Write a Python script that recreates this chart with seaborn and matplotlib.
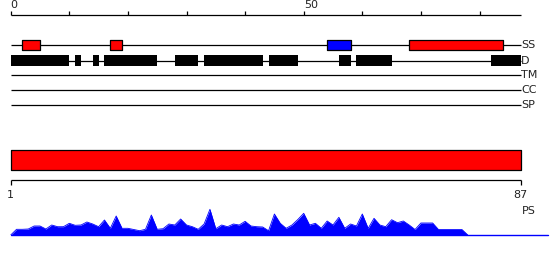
import matplotlib
matplotlib.use("Agg")
import matplotlib.pyplot as plt
import seaborn as sns
import numpy as np
import pandas as pd

# ---------------- data ----------------
seq_length = 87
ruler_ticks = [0, 10, 20, 30, 40, 50, 60, 70, 80]
ruler_labels = {0: "0", 50: "50"}

track_names = ["SS", "D", "TM", "CC", "SP"]

ss_starts = [2, 17, 54, 68]
ss_ends = [5, 19, 58, 84]
ss_colors = ["#ff0000", "#ff0000", "#0000ff", "#ff0000"]

d_starts = [0, 11, 14, 16, 28, 33, 44, 56, 59, 82]
d_ends = [10, 12, 15, 25, 32, 43, 49, 58, 65, 87]

domain_start = 0
domain_end = 87
domain_color = "#ff0000"

bottom_labels = ["1", "87"]

ps_values = [0, 5.7, 5.7, 6, 9, 9, 6, 10, 8.3, 8.3,
             11.7, 9.7, 10, 13, 11, 8.3, 15, 6.7, 19, 6.7,
             6.7, 5.5, 4.3, 5.7, 20, 5.7, 6.3, 11, 10, 16,
             10, 8.3, 5.7, 11, 25.7, 6.3, 10, 8.3, 11, 10,
             13.7, 9, 8.3, 8, 4.3, 21, 11.7, 6.7, 10, 15.5,
             21.7, 10, 11.7, 6.7, 14, 10, 17.7, 6.7, 11, 9,
             21, 6.7, 16.7, 10, 8.3, 15.3, 12.3, 14, 10, 5.5,
             12, 12, 12, 5.5, 5.5, 5.5, 5.5, 5.5, 0]
ps_df = pd.DataFrame({"pos": np.arange(len(ps_values)), "ps": ps_values})

# ---------------- layout ----------------
W, H = 550, 260
x0_px, ppu = 10.7, 5.86
xlim = (-x0_px / ppu, (W - x0_px) / ppu)

sns.set_style("white")
plt.rcParams["font.family"] = ["DejaVu Sans"]

fig = plt.figure(figsize=(W / 100, H / 100), dpi=100)
ax = fig.add_axes([0, 0, 1, 1])
ax.set_xlim(*xlim)
ax.set_ylim(H, 0)
ax.axis("off")

lw = 0.9
txt = "#222222"

# top ruler
ruler_y = 14.7
ax.hlines(ruler_y, 0, seq_length, color="black", lw=lw)
ax.vlines(ruler_ticks, ruler_y - 4, ruler_y, color="black", lw=lw)
for t, lab in ruler_labels.items():
    ax.text(t, ruler_y - 5, lab, ha="left", va="bottom", fontsize=8, color=txt)

# tracks
track_y = [45, 60.5, 75.3, 90, 105.3]
for name, y in zip(track_names, track_y):
    ax.hlines(y, 0, seq_length, color="black", lw=lw, zorder=1)
    ax.text(seq_length + 0.1, y, name, ha="left", va="center", fontsize=8, color=txt)

bh = 10
ax.broken_barh([(s, e - s) for s, e in zip(ss_starts, ss_ends)], (track_y[0] - bh / 2, bh),
               facecolors=ss_colors, edgecolors="black", linewidth=lw, zorder=2)
ax.broken_barh([(s, e - s) for s, e in zip(d_starts, d_ends)], (track_y[1] - 5.3, 10.6),
               facecolors="black", edgecolors="black", linewidth=0, zorder=2)

# domain bar
ax.broken_barh([(domain_start, domain_end - domain_start)], (150, 20.3),
               facecolors=domain_color, edgecolors="black", linewidth=lw, zorder=2)

# bottom ruler
by = 180.3
ax.hlines(by, 0, seq_length, color="black", lw=lw)
ax.vlines([0, seq_length], by, by + 4.5, color="black", lw=lw)
ax.text(0, 195.5, bottom_labels[0], ha="center", va="center", fontsize=8, color=txt)
ax.text(seq_length, 195.5, bottom_labels[1], ha="center", va="center", fontsize=8, color=txt)
ax.text(seq_length + 0.2, 211, "PS", ha="left", va="center", fontsize=8, color=txt)

# PS profile
base_px = 235
ax2 = fig.add_axes([0, (H - base_px) / H, 1, 30 / H])
ax2.set_xlim(*xlim)
ax2.set_ylim(0, 30)
ax2.axis("off")
ax2.patch.set_alpha(0)
ax2.fill_between(ps_df["pos"], 0, ps_df["ps"], color="#0000ff", lw=0, clip_on=False)
sns.lineplot(data=ps_df, x="pos", y="ps", ax=ax2, color="#0000ff", lw=0.6)
ax2.axhline(0, xmin=(x0_px) / W, xmax=548 / W, color="#0000ff", lw=1.0, clip_on=False)

fig.savefig("out.png", dpi=100)
